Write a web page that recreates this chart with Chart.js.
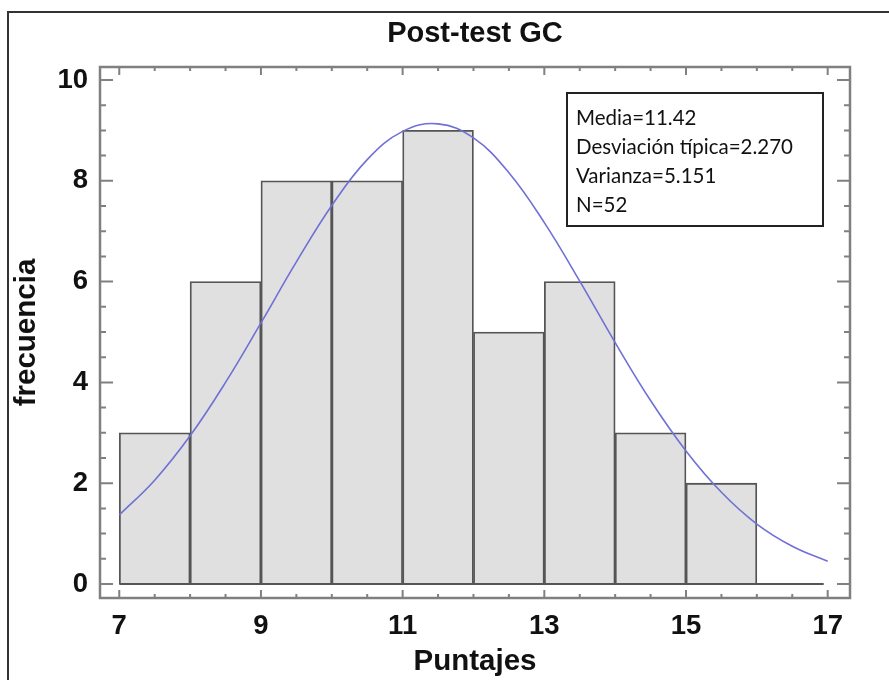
<!DOCTYPE html>
<html>
<head>
<meta charset="utf-8">
<script src="https://cdn.jsdelivr.net/npm/chart.js@4.4.1/dist/chart.umd.min.js"></script>
<style>
  body { margin: 0; background: #fff; }
  #wrap { position: relative; width: 889px; height: 680px; overflow: hidden; }
</style>
</head>
<body>
<div id="wrap"><canvas id="chartHisto" width="889" height="680"></canvas></div>
<script>
// histograma: inicio de cada clase (ancho 1) y frecuencia
const clases = [7, 8, 9, 10, 11, 12, 13, 14, 15];
const frecuencias = [3, 6, 8, 8, 9, 5, 6, 3, 2];

// curva normal
const curvaX = [7, 7.5, 8, 8.5, 9, 9.5, 10, 10.5, 11, 11.5, 12, 12.5, 13, 13.5, 14, 14.5, 15, 15.5, 16, 16.5, 17];
const curvaY = [1.37, 2.06, 2.94, 4.00, 5.18, 6.39, 7.51, 8.42, 8.98, 9.13, 8.85, 8.16, 7.17, 6.01, 4.79, 3.64, 2.64, 1.82, 1.19, 0.75, 0.45];

const xTicks = [7, 9, 11, 13, 15, 17];
const yTicks = [0, 2, 4, 6, 8, 10];

const resumen = ['Media=11.42', 'Desviación típica=2.270', 'Varianza=5.151', 'N=52'];

const fuente = "'Liberation Sans', Arial, sans-serif";
const gris = '#808080';

const marco = {
    id: 'marco',
    afterDraw(chart) {
        const { ctx, chartArea: a, scales: { x, y } } = chart;
        ctx.save();

        // caja del grafico
        ctx.strokeStyle = gris;
        ctx.lineWidth = 2.5;
        ctx.strokeRect(a.left, a.top, a.right - a.left, a.bottom - a.top);

        // marcas hacia dentro
        ctx.lineWidth = 2;
        for (let v = 7; v <= 17.001; v += 0.5) {
            const px = x.getPixelForValue(v);
            const largo = (v % 2 === 1) ? 8 : 4;
            ctx.beginPath();
            ctx.moveTo(px, a.bottom); ctx.lineTo(px, a.bottom - largo);
            ctx.moveTo(px, a.top); ctx.lineTo(px, a.top + largo);
            ctx.stroke();
        }
        for (let v = 0; v <= 10.001; v += 0.5) {
            const py = y.getPixelForValue(v);
            const largo = (v % 2 === 0) ? 13 : 6;
            ctx.beginPath();
            ctx.moveTo(a.left, py); ctx.lineTo(a.left + largo, py);
            ctx.moveTo(a.right, py); ctx.lineTo(a.right - largo, py);
            ctx.stroke();
        }

        // linea base
        ctx.strokeStyle = '#555';
        ctx.lineWidth = 2;
        ctx.beginPath();
        ctx.moveTo(x.getPixelForValue(7), y.getPixelForValue(0));
        ctx.lineTo(x.getPixelForValue(17) - 4, y.getPixelForValue(0));
        ctx.stroke();

        // cuadro de estadisticos
        const bx = a.left + 467, by = a.top + 26;
        ctx.strokeStyle = '#222';
        ctx.lineWidth = 2;
        ctx.strokeRect(bx, by, 256, 133);
        ctx.fillStyle = '#111';
        ctx.font = "20.5px Lato, 'Open Sans', sans-serif";
        ctx.textBaseline = 'alphabetic';
        resumen.forEach((t, i) => ctx.fillText(t, bx + 9, by + 32 + i * 29));

        // marco exterior
        ctx.strokeStyle = '#333';
        ctx.lineWidth = 2;
        ctx.beginPath();
        ctx.moveTo(8, 680); ctx.lineTo(8, 12); ctx.lineTo(889, 12);
        ctx.stroke();

        ctx.restore();
    }
};

const context = document.getElementById('chartHisto').getContext('2d');

const chartHisto = new Chart(context, {
    data: {
        datasets: [
            {
                type: 'line',
                label: 'Normal',
                data: curvaX.map((v, i) => ({ x: v, y: curvaY[i] })),
                borderColor: 'rgb(112,112,214)',
                borderWidth: 1.6,
                pointRadius: 0,
                tension: 0.4,
                order: 0
            },
            {
                type: 'bar',
                label: 'frecuencia',
                data: clases.map((c, i) => ({ x: c + 0.5, y: frecuencias[i] })),
                backgroundColor: '#e0e0e0',
                borderColor: '#555',
                borderWidth: 1.8,
                barPercentage: 1,
                categoryPercentage: 1,
                order: 1
            }
        ]
    },
    options: {
        responsive: false,
        animation: false,
        layout: { padding: { left: 0, right: 39, top: 0, bottom: 0 } },
        plugins: {
            legend: { display: false },
            tooltip: { enabled: false },
            title: {
                display: true,
                text: 'Post-test GC',
                fullSize: false,
                color: '#111',
                font: { family: fuente, size: 29, weight: 'bold' },
                padding: { top: 16.6, bottom: 15.6 }
            }
        },
        scales: {
            x: {
                type: 'linear',
                min: 6.728,
                max: 17.315,
                offset: false,
                grid: { display: false, drawTicks: false },
                border: { display: false },
                afterBuildTicks: (scale) => { scale.ticks = xTicks.map(v => ({ value: v })); },
                afterFit: (scale) => { scale.height = 82; },
                ticks: {
                    color: '#111',
                    padding: 12,
                    maxRotation: 0,
                    font: { family: fuente, size: 27.5, weight: 'bold' }
                },
                title: {
                    display: true,
                    text: 'Puntajes',
                    color: '#111',
                    font: { family: fuente, size: 29.5, weight: 'bold' },
                    padding: { top: 0, bottom: 0 }
                }
            },
            y: {
                min: -0.278,
                max: 10.258,
                grid: { display: false, drawTicks: false },
                border: { display: false },
                afterBuildTicks: (scale) => { scale.ticks = yTicks.map(v => ({ value: v })); },
                afterFit: (scale) => { scale.width = 100; },
                ticks: {
                    color: '#111',
                    padding: 12,
                    font: { family: fuente, size: 27.5, weight: 'bold' }
                },
                title: {
                    display: true,
                    text: 'frecuencia',
                    color: '#111',
                    font: { family: fuente, size: 29.5, weight: 'bold' },
                    padding: { top: 8.8, bottom: 0 }
                }
            }
        }
    },
    plugins: [marco]
});
</script>
</body>
</html>
